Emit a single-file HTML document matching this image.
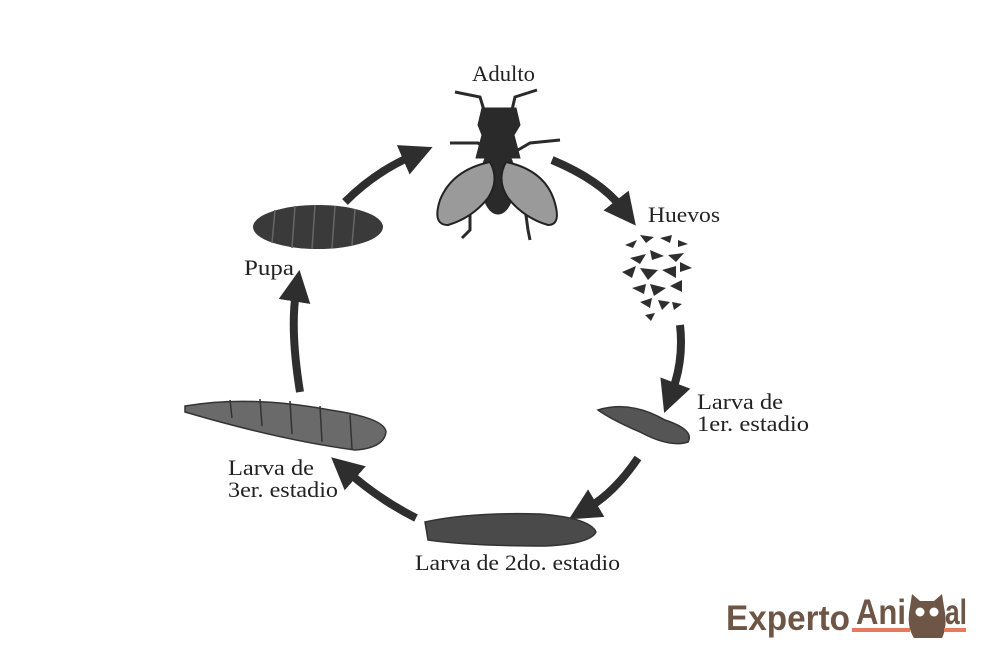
<!DOCTYPE html>
<html><head><style>
html,body{margin:0;padding:0;background:#fff;width:1004px;height:670px;overflow:hidden}
svg{display:block}
.t{font-family:"Liberation Serif",serif;font-size:22px;fill:#222}
.lg{font-family:"Liberation Sans",sans-serif;font-weight:bold;font-size:35px;fill:#6e5647}
</style></head><body>
<svg width="1004" height="670" viewBox="0 0 1004 670" xmlns="http://www.w3.org/2000/svg">
<defs>
<marker id="ah" markerWidth="4" markerHeight="4" refX="1.2" refY="2" orient="auto" markerUnits="strokeWidth">
<path d="M0,0 L4,2 L0,4 Z" fill="#2e2e2e"/>
</marker>
</defs>
<g fill="none" stroke="#2e2e2e" stroke-width="8" marker-end="url(#ah)">
<path d="M345,202 Q375,172 412,156"/>
<path d="M552,160 Q600,180 622,208"/>
<path d="M680,325 Q684,360 672,392"/>
<path d="M638,458 Q615,492 588,508"/>
<path d="M416,518 Q380,500 348,472"/>
<path d="M300,392 Q290,330 296,292"/>
</g>
<!-- fly -->
<g fill="#2a2a2a" stroke="#2a2a2a">
<path d="M455,92 L480,97 L484,110" stroke-width="3" fill="none"/>
<path d="M537,90 L515,97 L512,110" stroke-width="3" fill="none"/>
<path d="M450,143 L478,143 L488,150" stroke-width="3" fill="none"/>
<path d="M560,140 L530,143 L518,150" stroke-width="3" fill="none"/>
<path d="M470,208 L470,230 L462,238" stroke-width="3" fill="none"/>
<path d="M525,208 L528,230 L530,240" stroke-width="3" fill="none"/>
<path d="M482,108 L516,108 L520,125 L514,135 L520,158 L476,158 L482,135 L478,125 Z"/>
<ellipse cx="498" cy="180" rx="17" ry="34"/>
</g>
<path d="M490,162 Q452,170 440,200 Q432,225 448,225 Q472,218 488,198 Q500,180 490,162 Z" fill="#9a9a9a" stroke="#222" stroke-width="2"/>
<path d="M506,162 Q544,170 554,200 Q562,225 548,225 Q524,218 508,198 Q496,180 506,162 Z" fill="#9a9a9a" stroke="#222" stroke-width="2"/>
<!-- pupa -->
<ellipse cx="318" cy="227" rx="65" ry="22" fill="#3a3a3a"/>
<g stroke="#666" stroke-width="1.5"><path d="M275,210 L272,243 M295,206 L292,248 M315,205 L312,249 M335,206 L332,248 M355,209 L352,245"/></g>
<!-- eggs -->
<g fill="#2e2e2e">
<path d="M625,245 l12,-5 l-4,8z M640,235 l14,2 l-8,6z M660,238 l12,-3 l-2,8z M678,240 l10,4 l-10,3z M630,258 l16,-4 l-6,10z M650,250 l14,6 l-12,4z M668,255 l16,-2 l-8,9z M622,272 l14,-6 l-4,12z M640,268 l18,2 l-10,10z M662,270 l14,-4 l0,12z M680,262 l12,6 l-12,4z M632,288 l14,-4 l-2,10z M650,284 l16,4 l-12,8z M670,286 l12,-6 l0,12z M640,302 l12,-4 l-2,10z M658,300 l12,2 l-8,8z M645,315 l10,-2 l-4,8z M672,302 l10,2 l-8,6z"/>
</g>
<!-- larva 1 -->
<path d="M598,410 Q630,400 665,420 Q695,430 688,442 Q670,448 640,432 Q612,420 598,410 Z" fill="#555" stroke="#333" stroke-width="1.5"/>
<!-- larva 2 -->
<path d="M425,522 Q470,512 540,514 Q590,518 596,532 Q590,544 545,546 Q470,546 428,540 Z" fill="#4a4a4a" stroke="#333" stroke-width="1.5"/>
<!-- larva 3 -->
<path d="M185,406 Q250,395 330,410 Q385,418 386,432 Q384,448 355,450 Q280,440 185,412 Z" fill="#6a6a6a" stroke="#333" stroke-width="1.5"/>
<g stroke="#333" stroke-width="1.5"><path d="M230,400 L232,418 M260,399 L262,426 M290,401 L292,434 M320,406 L322,442 M350,415 L352,449"/></g>
<!-- labels -->
<text class="t" x="472" y="81" textLength="63" lengthAdjust="spacingAndGlyphs">Adulto</text>
<text class="t" x="648" y="222" textLength="72" lengthAdjust="spacingAndGlyphs">Huevos</text>
<text class="t" x="244" y="275" textLength="50" lengthAdjust="spacingAndGlyphs">Pupa</text>
<text class="t" x="697" y="409" textLength="86" lengthAdjust="spacingAndGlyphs">Larva de</text>
<text class="t" x="697" y="431" textLength="112" lengthAdjust="spacingAndGlyphs">1er. estadio</text>
<text class="t" x="228" y="475" textLength="86" lengthAdjust="spacingAndGlyphs">Larva de</text>
<text class="t" x="228" y="497" textLength="110" lengthAdjust="spacingAndGlyphs">3er. estadio</text>
<text class="t" x="415" y="570" textLength="205" lengthAdjust="spacingAndGlyphs">Larva de 2do. estadio</text>
<!-- logo -->
<text class="lg" x="726" y="630" textLength="124" lengthAdjust="spacingAndGlyphs">Experto</text>
<text class="lg" x="856" y="624" textLength="50" lengthAdjust="spacingAndGlyphs">Ani</text>
<rect x="852" y="628" width="58" height="4" fill="#e8785f"/>
<path d="M910,607 L912,594 L920,601 L934,601 L942,594 L944,607 Q948,626 942,638 L914,638 Q906,626 910,607 Z" fill="#6e5647"/>
<circle cx="920" cy="612" r="4.5" fill="#fff"/><circle cx="934" cy="612" r="4.5" fill="#fff"/>
<text class="lg" x="945" y="624" textLength="22" lengthAdjust="spacingAndGlyphs">al</text>
<rect x="944" y="628" width="22" height="4" fill="#e8785f"/>
</svg>
</body></html>
